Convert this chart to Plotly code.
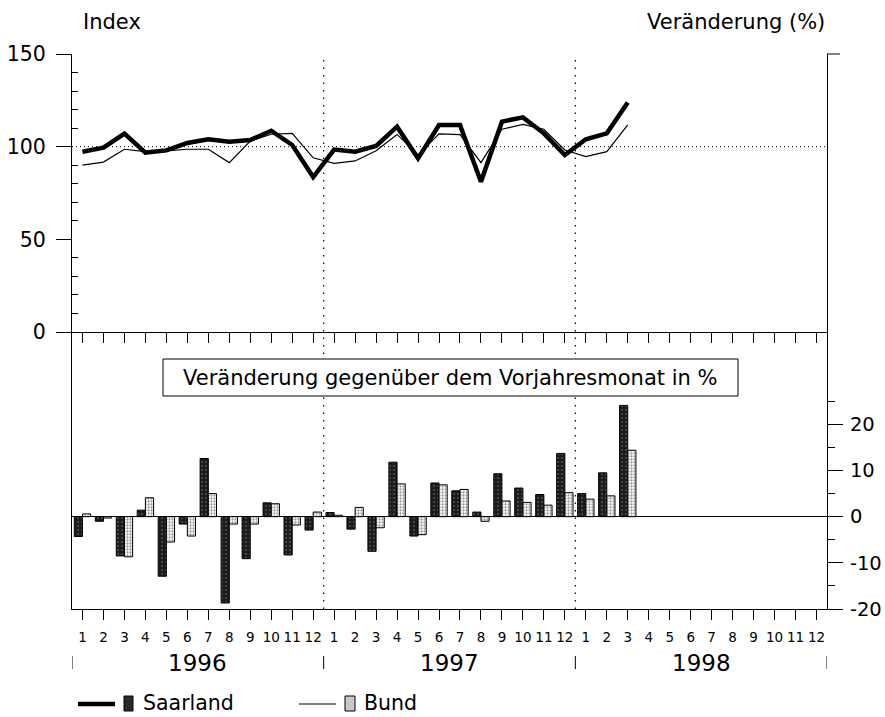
import plotly.graph_objects as go

# ---------------- data ----------------
months = list(range(1, 37))
month_labels = [str(m) for m in range(1, 13)] * 3
years = ["1996", "1997", "1998"]
year_centers = [6.5, 18.5, 30.5]
year_bounds = [0.5, 12.5, 24.5, 36.5]

saar_index = [97.3, 99.5, 107.0, 96.8, 98.0, 102.0, 104.0, 102.7, 103.6, 108.6, 100.9, 83.6,
              98.4, 97.3, 100.4, 110.8, 93.7, 111.7, 111.7, 81.1, 113.5, 115.8, 107.2, 95.5,
              104.0, 107.2, 123.8]
bund_index = [90.0, 91.7, 98.6, 97.3, 97.7, 98.6, 98.6, 91.4, 103.0, 106.7, 107.2, 94.0,
              91.0, 92.3, 97.8, 106.6, 95.5, 106.9, 106.5, 91.4, 109.4, 112.0, 109.4, 98.2,
              94.6, 97.3, 111.7]

saar_chg = [-4.3, -1.0, -8.5, 1.4, -12.9, -1.6, 12.6, -18.7, -9.1, 3.0, -8.3, -2.9,
            0.9, -2.7, -7.5, 11.8, -4.2, 7.3, 5.6, 1.0, 9.3, 6.2, 4.8, 13.7,
            5.0, 9.5, 24.1]
bund_chg = [0.6, -0.3, -8.7, 4.1, -5.5, -4.2, 5.0, -1.6, -1.6, 2.8, -1.8, 1.0,
            0.3, 2.0, -2.4, 7.1, -3.9, 6.9, 5.9, -1.0, 3.4, 3.1, 2.5, 5.2,
            3.8, 4.5, 14.4]

index_ticks = [0, 50, 100, 150]
chg_ticks = [-20, -10, 0, 10, 20]
chg_ticktext = ["-20", "-10", "0", "10", "20"]

# ---------------- geometry helpers ----------------
W, H = 885, 717
L, R, T, B = 72, 827, 54, 609
MID = 332
D = (B - MID) / (B - T)


def px(x):
    return (x - L) / (R - L)


def py(y):
    return (B - y) / (B - T)


FONT = "DejaVu Sans"
fig = go.Figure()

n = len(saar_index)
fig.add_trace(go.Bar(
    x=months[:n], y=saar_chg, xaxis="x2", yaxis="y2", name="Saarland",
    marker=dict(color="#1c1c1c", line=dict(color="black", width=1),
                pattern=dict(shape=".", fgcolor="#8a8a8a", bgcolor="#1c1c1c",
                             size=4, solidity=0.2)),
    showlegend=False))
fig.add_trace(go.Bar(
    x=months[:n], y=bund_chg, xaxis="x2", yaxis="y2", name="Bund",
    marker=dict(color="white", line=dict(color="black", width=1),
                pattern=dict(shape=".", fgcolor="#3a3a3a", bgcolor="white",
                             size=3, solidity=0.45)),
    showlegend=False))
fig.add_trace(go.Scatter(
    x=months[:n], y=bund_index, xaxis="x", yaxis="y", mode="lines",
    line=dict(color="black", width=1.2), showlegend=False))
fig.add_trace(go.Scatter(
    x=months[:n], y=saar_index, xaxis="x", yaxis="y", mode="lines",
    line=dict(color="black", width=4.5), showlegend=False))

xcommon = dict(range=[0.5, 36.5], showline=True, linecolor="black", linewidth=1,
               ticks="outside", ticklen=10, tickcolor="black", tickwidth=1,
               tickvals=months, showgrid=False, zeroline=False, fixedrange=True,
               automargin=False)

fig.update_layout(
    width=W, height=H,
    margin=dict(l=L, r=W - R, t=T, b=H - B, autoexpand=False),
    paper_bgcolor="white", plot_bgcolor="white",
    font=dict(family=FONT, color="black"),
    barmode="group", bargap=0.22, bargroupgap=0,
    xaxis=dict(**xcommon, anchor="y", showticklabels=False),
    xaxis2=dict(**xcommon, anchor="y2", ticktext=month_labels,
                tickfont=dict(family=FONT, size=13.5), ticklabelstandoff=6),
    yaxis=dict(domain=[D, 1], range=[0, 150], anchor="x",
               tickvals=index_ticks, ticks="outside", ticklen=15,
               tickcolor="black", showline=True, linecolor="black", mirror=True,
               minor=dict(tickvals=[10, 20, 30, 40, 60, 70, 80, 90, 110, 120, 130, 140],
                          ticks="inside", ticklen=6, tickcolor="black"),
               tickfont=dict(family=FONT, size=20.5), ticklabelstandoff=6,
               showgrid=False, zeroline=False, fixedrange=True, automargin=False),
    yaxis2=dict(domain=[0, D], range=[-20, 40], anchor="x2", side="right",
                tickvals=chg_ticks, ticktext=chg_ticktext, ticks="outside", ticklen=15,
                tickcolor="black", showline=True, linecolor="black", mirror=True,
                minor=dict(tickvals=[-15, -5, 5, 15, 25], ticks="outside",
                           ticklen=7, tickcolor="black"),
                tickfont=dict(family=FONT, size=19.5), ticklabelstandoff=3,
                showgrid=False, zeroline=True, zerolinecolor="black",
                zerolinewidth=1, fixedrange=True, automargin=False),
)

shapes = []
# dotted 100 line
shapes.append(dict(type="line", xref="x domain", yref="y", x0=0, x1=1, y0=100, y1=100,
                   line=dict(color="black", width=1, dash="1px,3px"), layer="below"))
# dotted year separators
for xb in year_bounds[1:3]:
    shapes.append(dict(type="line", xref="x2", yref="paper", x0=xb, x1=xb, y0=0, y1=1,
                       line=dict(color="black", width=1.2, dash="1.5px,6px"), layer="below"))
# text box
shapes.append(dict(type="rect", xref="paper", yref="paper",
                   x0=px(163), x1=px(738), y0=py(396), y1=py(359),
                   line=dict(color="black", width=1), fillcolor="white", layer="above"))
# top-right hook
shapes.append(dict(type="line", xref="paper", yref="paper", x0=1, x1=px(840),
                   y0=1, y1=1, line=dict(color="black", width=1)))
# year separator marks
for xb in year_bounds:
    shapes.append(dict(type="line", xref="x2", yref="paper", x0=xb, x1=xb,
                       y0=py(656), y1=py(669), line=dict(color="black", width=1)))
# legend glyphs
shapes.append(dict(type="line", xref="paper", yref="paper", x0=px(78), x1=px(115),
                   y0=py(704), y1=py(704), line=dict(color="black", width=4.5)))
shapes.append(dict(type="rect", xref="paper", yref="paper", x0=px(124), x1=px(133),
                   y0=py(711), y1=py(696), line=dict(color="black", width=1),
                   fillcolor="#2a2a2a"))
shapes.append(dict(type="line", xref="paper", yref="paper", x0=px(299), x1=px(336),
                   y0=py(704), y1=py(704), line=dict(color="black", width=1.2)))
shapes.append(dict(type="rect", xref="paper", yref="paper", x0=px(345), x1=px(355),
                   y0=py(711), y1=py(696), line=dict(color="black", width=1),
                   fillcolor="#c8c8c8"))
fig.update_layout(shapes=shapes)

ann = []
ann.append(dict(text="Index", xref="paper", yref="paper", x=px(81), y=py(22),
                xanchor="left", yanchor="middle", showarrow=False,
                font=dict(family=FONT, size=21)))
ann.append(dict(text="Veränderung (%)", xref="paper", yref="paper", x=px(827), y=py(22),
                xanchor="right", yanchor="middle", showarrow=False,
                font=dict(family=FONT, size=21)))
ann.append(dict(text="Veränderung gegenüber dem Vorjahresmonat in %", xref="paper",
                yref="paper", x=px(450), y=py(378), xanchor="center", yanchor="middle",
                showarrow=False, font=dict(family=FONT, size=21)))
for yc, yl in zip(year_centers, years):
    ann.append(dict(text=yl, xref="x2", yref="paper", x=yc, y=py(663),
                    xanchor="center", yanchor="middle", showarrow=False,
                    font=dict(family=FONT, size=23)))
ann.append(dict(text="Saarland", xref="paper", yref="paper", x=px(141), y=py(703),
                xanchor="left", yanchor="middle", showarrow=False,
                font=dict(family=FONT, size=20.5)))
ann.append(dict(text="Bund", xref="paper", yref="paper", x=px(362), y=py(703),
                xanchor="left", yanchor="middle", showarrow=False,
                font=dict(family=FONT, size=20.5)))
fig.update_layout(annotations=ann)

fig.write_html(
    "out.html",
    config={"displayModeBar": False},
    post_script="document.body.style.margin='0';document.body.style.overflow='hidden';",
)
